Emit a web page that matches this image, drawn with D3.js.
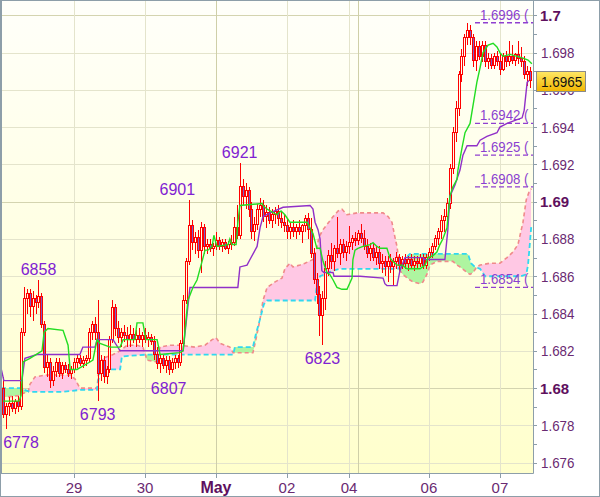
<!DOCTYPE html>
<html><head><meta charset="utf-8">
<script src="https://cdn.jsdelivr.net/npm/d3@7/dist/d3.min.js"></script>
<style>html,body{margin:0;padding:0;background:#fff}svg{display:block}</style>
</head><body>
<svg id="chart" width="600" height="497"></svg>
<script>
// ---- hourly bars (GBP/USD) ----
const barOpen=[1.6800,1.6786,1.6790,1.6792,1.6789,1.6793,1.6790,1.6830,1.6848,1.6851,
1.6844,1.6848,1.6846,1.6849,1.6834,1.6811,1.6814,1.6804,1.6809,1.6814,
1.6808,1.6812,1.6810,1.6808,1.6810,1.6814,1.6816,1.6813,1.6815,1.6816,
1.6830,1.6834,1.6830,1.6808,1.6815,1.6806,1.6810,1.6826,1.6843,1.6832,
1.6827,1.6830,1.6828,1.6826,1.6829,1.6826,1.6828,1.6826,1.6828,1.6826,
1.6827,1.6825,1.6818,1.6813,1.6816,1.6812,1.6815,1.6810,1.6814,1.6816,
1.6814,1.6824,1.6847,1.6868,1.6887,1.6878,1.6881,1.6874,1.6886,1.6876,
1.6877,1.6875,1.6876,1.6879,1.6876,1.6878,1.6875,1.6877,1.6878,1.6886,
1.6882,1.6908,1.6903,1.6906,1.6896,1.6884,1.6888,1.6896,1.6898,1.6892,
1.6894,1.6890,1.6893,1.6895,1.6891,1.6889,1.6887,1.6884,1.6886,1.6884,
1.6886,1.6884,1.6887,1.6891,1.6885,1.6872,1.6858,1.6850,1.6839,1.6848,
1.6864,1.6871,1.6868,1.6875,1.6872,1.6877,1.6873,1.6876,1.6878,1.6880,
1.6879,1.6883,1.6880,1.6876,1.6872,1.6875,1.6870,1.6873,1.6867,1.6868,
1.6865,1.6868,1.6865,1.6868,1.6870,1.6866,1.6869,1.6867,1.6869,1.6866,
1.6868,1.6867,1.6870,1.6866,1.6870,1.6873,1.6876,1.6880,1.6884,1.6890,
1.6892,1.6899,1.6918,1.6937,1.6950,1.6968,1.6978,1.6988,1.6992,1.6988,
1.6976,1.6983,1.6978,1.6984,1.6975,1.6977,1.6973,1.6978,1.6975,1.6971,
1.6978,1.6975,1.6978,1.6976,1.6979,1.6977,1.6975,1.6968,1.6970];
const barHigh=[1.6806,1.6792,1.6795,1.6796,1.6794,1.6796,1.6832,1.6854,1.6853,1.6853,
1.6852,1.6850,1.6858,1.6851,1.6836,1.6818,1.6816,1.6812,1.6816,1.6816,
1.6814,1.6814,1.6813,1.6812,1.6816,1.6818,1.6818,1.6817,1.6818,1.6832,
1.6836,1.6838,1.6847,1.6818,1.6817,1.6812,1.6828,1.6847,1.6845,1.6836,
1.6832,1.6834,1.6833,1.6834,1.6832,1.6831,1.6832,1.6830,1.6832,1.6830,
1.6829,1.6828,1.6822,1.6818,1.6818,1.6817,1.6817,1.6816,1.6818,1.6818,
1.6826,1.6850,1.6870,1.6901,1.6890,1.6884,1.6885,1.6889,1.6888,1.6880,
1.6880,1.6878,1.6884,1.6881,1.6880,1.6880,1.6879,1.6882,1.6892,1.6898,
1.6921,1.6912,1.6910,1.6908,1.6900,1.6892,1.6899,1.6902,1.6901,1.6898,
1.6897,1.6896,1.6897,1.6898,1.6895,1.6893,1.6891,1.6889,1.6890,1.6888,
1.6890,1.6888,1.6893,1.6894,1.6891,1.6875,1.6862,1.6855,1.6852,1.6868,
1.6874,1.6878,1.6877,1.6892,1.6880,1.6880,1.6879,1.6887,1.6882,1.6884,
1.6885,1.6888,1.6885,1.6880,1.6878,1.6878,1.6876,1.6876,1.6872,1.6871,
1.6871,1.6872,1.6870,1.6873,1.6872,1.6871,1.6872,1.6871,1.6872,1.6871,
1.6871,1.6872,1.6872,1.6872,1.6875,1.6878,1.6882,1.6886,1.6893,1.6896,
1.6902,1.6920,1.6940,1.6954,1.6970,1.6982,1.6990,1.6996,1.6995,1.6990,
1.6986,1.6986,1.6986,1.6986,1.6980,1.6979,1.6980,1.6981,1.6979,1.6980,
1.6981,1.6986,1.6984,1.6980,1.6986,1.6983,1.6978,1.6973,1.6972];
const barLow=[1.6784,1.6778,1.6785,1.6787,1.6786,1.6787,1.6788,1.6828,1.6840,1.6838,
1.6836,1.6840,1.6843,1.6832,1.6808,1.6806,1.6800,1.6801,1.6806,1.6806,
1.6805,1.6808,1.6806,1.6805,1.6808,1.6811,1.6812,1.6811,1.6812,1.6814,
1.6826,1.6826,1.6793,1.6804,1.6803,1.6802,1.6808,1.6824,1.6828,1.6824,
1.6822,1.6825,1.6822,1.6822,1.6824,1.6822,1.6824,1.6822,1.6824,1.6822,
1.6823,1.6815,1.6810,1.6808,1.6810,1.6808,1.6807,1.6808,1.6810,1.6811,
1.6812,1.6822,1.6845,1.6866,1.6874,1.6872,1.6870,1.6862,1.6872,1.6872,
1.6873,1.6871,1.6874,1.6874,1.6873,1.6874,1.6872,1.6874,1.6876,1.6880,
1.6880,1.6898,1.6896,1.6892,1.6880,1.6879,1.6885,1.6892,1.6889,1.6886,
1.6888,1.6886,1.6888,1.6887,1.6886,1.6884,1.6880,1.6880,1.6881,1.6880,
1.6882,1.6878,1.6884,1.6880,1.6870,1.6856,1.6845,1.6828,1.6823,1.6842,
1.6860,1.6864,1.6863,1.6870,1.6866,1.6870,1.6868,1.6872,1.6874,1.6876,
1.6877,1.6878,1.6874,1.6870,1.6868,1.6868,1.6866,1.6864,1.6862,1.6860,
1.6857,1.6862,1.6855,1.6864,1.6862,1.6864,1.6864,1.6863,1.6864,1.6863,
1.6864,1.6865,1.6864,1.6864,1.6868,1.6870,1.6874,1.6877,1.6880,1.6884,
1.6890,1.6896,1.6915,1.6932,1.6946,1.6964,1.6973,1.6984,1.6984,1.6972,
1.6970,1.6976,1.6975,1.6972,1.6971,1.6971,1.6971,1.6973,1.6968,1.6970,
1.6972,1.6973,1.6974,1.6973,1.6974,1.6972,1.6966,1.6962,1.6961];
const barClose=[1.6786,1.6790,1.6792,1.6789,1.6793,1.6790,1.6830,1.6848,1.6851,1.6844,
1.6848,1.6846,1.6849,1.6834,1.6811,1.6814,1.6804,1.6809,1.6814,1.6808,
1.6812,1.6810,1.6808,1.6810,1.6814,1.6816,1.6813,1.6815,1.6816,1.6830,
1.6834,1.6830,1.6808,1.6815,1.6806,1.6810,1.6826,1.6843,1.6832,1.6827,
1.6830,1.6828,1.6826,1.6829,1.6826,1.6828,1.6826,1.6828,1.6826,1.6827,
1.6825,1.6818,1.6813,1.6816,1.6812,1.6815,1.6810,1.6814,1.6816,1.6814,
1.6824,1.6847,1.6868,1.6887,1.6878,1.6881,1.6874,1.6886,1.6876,1.6877,
1.6875,1.6876,1.6879,1.6876,1.6878,1.6875,1.6877,1.6878,1.6886,1.6882,
1.6908,1.6903,1.6906,1.6896,1.6884,1.6888,1.6896,1.6898,1.6892,1.6894,
1.6890,1.6893,1.6895,1.6891,1.6889,1.6887,1.6884,1.6886,1.6884,1.6886,
1.6884,1.6887,1.6891,1.6885,1.6872,1.6858,1.6850,1.6839,1.6848,1.6864,
1.6871,1.6868,1.6875,1.6872,1.6877,1.6873,1.6876,1.6878,1.6880,1.6879,
1.6883,1.6880,1.6876,1.6872,1.6875,1.6870,1.6873,1.6867,1.6868,1.6865,
1.6868,1.6865,1.6868,1.6870,1.6866,1.6869,1.6867,1.6869,1.6866,1.6868,
1.6867,1.6870,1.6866,1.6870,1.6873,1.6876,1.6880,1.6884,1.6890,1.6892,
1.6899,1.6918,1.6937,1.6950,1.6968,1.6978,1.6988,1.6992,1.6988,1.6976,
1.6983,1.6978,1.6984,1.6975,1.6977,1.6973,1.6978,1.6975,1.6971,1.6978,
1.6975,1.6978,1.6976,1.6979,1.6977,1.6975,1.6968,1.6970,1.6965];

// ---- Ichimoku lines: [bar position, price] ----
const tenkan=[[0,1.6793],[5.4,1.6793],[6.1,1.6796],[6.8,1.6814],[9.1,1.6816],[13.2,1.6820],[13.9,1.6830],[15.2,1.6832],[20.3,1.6831],[22.0,1.6823],[22.7,1.6810],[25.0,1.6810],[29.4,1.6814],[30.4,1.6815],[31.8,1.6826],[32.8,1.6824],[36.2,1.6822],[39.6,1.6822],[40.6,1.6826],[44.6,1.6826],[45.3,1.6835],[47.3,1.6835],[48.3,1.6826],[52.1,1.6826],[53.1,1.6818],[59.8,1.6819],[60.9,1.6820],[62.5,1.6847],[64.2,1.6854],[65.6,1.6858],[67.3,1.6868],[68.3,1.6874],[69.3,1.6874],[70.7,1.6876],[71.3,1.6882],[72.3,1.6876],[76.1,1.6877],[76.7,1.6880],[77.4,1.6877],[78.8,1.6877],[79.4,1.6889],[80.1,1.6898],[87.6,1.6899],[87.9,1.6898],[89.3,1.6896],[92.6,1.6893],[94.0,1.6895],[95.3,1.6893],[97.0,1.6889],[102.8,1.6889],[104.8,1.6883],[106.1,1.6875],[107.2,1.6875],[108.2,1.6868],[109.5,1.6862],[110.5,1.6861],[111.6,1.6858],[112.9,1.6854],[114.6,1.6853],[116.3,1.6853],[118.0,1.6859],[118.3,1.6869],[119.0,1.6874],[120.0,1.6875],[121.7,1.6876],[124.1,1.6877],[125.1,1.6878],[126.4,1.6876],[127.5,1.6875],[129.8,1.6875],[130.8,1.6870],[131.8,1.6868],[133.2,1.6866],[134.9,1.6866],[136.6,1.6864],[141.0,1.6864],[142.7,1.6866],[143.7,1.6870],[145.4,1.6871],[146.7,1.6873],[147.7,1.6877],[148.7,1.6880],[150.1,1.6886],[151.1,1.6903],[152.1,1.6908],[153.5,1.6912],[153.8,1.6917],[155.2,1.6929],[156.2,1.6937],[157.9,1.6942],[160.2,1.6964],[161.3,1.6972],[162.3,1.6980],[164.0,1.6984],[165.7,1.6985],[167.0,1.6983],[168.0,1.6980],[169.0,1.6978],[171.4,1.6979],[173.8,1.6978],[175.8,1.6977],[177.5,1.6976],[178.8,1.6974]];
const kijun=[[-0.7,1.6811],[0.3,1.6804],[6.4,1.6804],[7.4,1.6816],[11.5,1.6818],[26.0,1.6818],[27.0,1.6822],[31.1,1.6822],[31.8,1.6826],[37.2,1.6826],[39.6,1.6820],[60.9,1.6820],[63.2,1.6854],[79.4,1.6854],[80.1,1.6865],[82.5,1.6866],[83.5,1.6869],[85.9,1.6876],[86.9,1.6886],[87.9,1.6892],[90.3,1.6894],[94.7,1.6897],[103.8,1.6898],[104.8,1.6896],[105.5,1.6889],[106.5,1.6885],[107.2,1.6880],[107.8,1.6863],[108.5,1.6862],[111.6,1.6862],[111.9,1.6860],[120.7,1.6860],[128.5,1.6859],[129.1,1.6856],[129.8,1.6855],[133.2,1.6855],[134.2,1.6863],[135.9,1.6870],[142.0,1.6870],[142.7,1.6869],[149.4,1.6869],[150.4,1.6885],[151.1,1.6903],[152.8,1.6909],[154.5,1.6917],[155.5,1.6925],[156.9,1.6930],[160.2,1.6930],[161.3,1.6933],[163.6,1.6935],[167.0,1.6937],[168.0,1.6940],[170.4,1.6942],[173.8,1.6944],[175.5,1.6945],[176.2,1.6949],[177.2,1.6964],[177.8,1.6965]];
const spanA=[[-0.7,1.6795],[5.7,1.6796],[6.4,1.6797],[8.5,1.6798],[9.1,1.6802],[10.8,1.6806],[14.2,1.6807],[22.7,1.6807],[24.3,1.6805],[26.0,1.6800],[31.8,1.6800],[32.5,1.6812],[33.8,1.6816],[37.2,1.6818],[39.6,1.6820],[41.9,1.6823],[45.3,1.6823],[47.3,1.6822],[48.7,1.6815],[52.1,1.6814],[53.1,1.6822],[56.5,1.6823],[59.8,1.6823],[64.9,1.6822],[68.3,1.6823],[70.7,1.6826],[72.0,1.6827],[73.4,1.6824],[76.7,1.6822],[77.8,1.6819],[84.5,1.6819],[85.5,1.6826],[86.9,1.6837],[87.9,1.6847],[89.3,1.6854],[92.0,1.6857],[94.3,1.6859],[95.3,1.6864],[97.0,1.6867],[98.0,1.6865],[100.4,1.6866],[102.1,1.6867],[104.8,1.6869],[106.1,1.6875],[106.8,1.6881],[108.2,1.6885],[111.6,1.6892],[113.3,1.6895],[114.6,1.6896],[116.3,1.6893],[119.7,1.6894],[123.1,1.6894],[128.5,1.6894],[130.2,1.6892],[131.5,1.6889],[132.5,1.6881],[133.2,1.6876],[133.9,1.6867],[134.2,1.6863],[135.2,1.6861],[137.6,1.6858],[138.6,1.6857],[141.0,1.6856],[142.0,1.6857],[143.3,1.6861],[144.4,1.6866],[146.7,1.6868],[152.1,1.6868],[153.5,1.6866],[154.5,1.6865],[156.9,1.6862],[157.9,1.6861],[158.9,1.6862],[160.2,1.6865],[161.3,1.6866],[164.6,1.6867],[168.0,1.6867],[170.4,1.6870],[172.4,1.6873],[174.1,1.6877],[175.8,1.6889],[176.9,1.6901],[177.8,1.6905],[178.6,1.6907]];
const spanB=[[-0.7,1.6800],[5.7,1.6800],[9.1,1.6798],[20.3,1.6798],[26.0,1.6799],[31.8,1.6799],[32.5,1.6807],[33.1,1.6810],[39.6,1.6810],[40.2,1.6817],[48.7,1.6818],[77.8,1.6818],[78.4,1.6822],[84.5,1.6822],[85.5,1.6829],[86.9,1.6837],[88.2,1.6845],[89.3,1.6847],[105.5,1.6847],[106.1,1.6855],[107.2,1.6860],[111.6,1.6863],[113.9,1.6864],[133.5,1.6864],[135.9,1.6867],[136.9,1.6871],[137.6,1.6872],[157.2,1.6872],[158.2,1.6867],[159.6,1.6865],[161.3,1.6864],[163.0,1.6860],[175.1,1.6860],[176.9,1.6861],[177.5,1.6866],[178.2,1.6879],[178.6,1.6887]];

// ---- annotations ----
const levelValues=[1.6996,1.6942,1.6925,1.6908,1.6854];
const extremeIdx=[1,12,32,56,63,80,108];
const extremeVal=[1.6778,1.6858,1.6793,1.6807,1.6901,1.6921,1.6823];
const extremeKind=["low","high","low","low","high","high","low"];
const yTickValues=[1.676,1.678,1.68,1.682,1.684,1.686,1.688,1.69,1.692,1.694,1.696,1.698,1.7];
const yMinorTicks=[1.676,1.677,1.678,1.679,1.68,1.681,1.682,1.683,1.684,1.685,1.686,1.687,1.688,1.689,1.69,1.691,1.692,1.693,1.694,1.695,1.696,1.697,1.698,1.699,1.7];
const xTickIdx=[24,48,72,96,117,144,168];
const xTickLabels=["29","30","May","02","04","06","07"];
const xGridIdx=[24,48,72,96,117,120,144,168];
const xGridMajor=[72,120];
const lastPrice=1.6965;

const FONT="'Liberation Sans', Arial, sans-serif";
const svg=d3.select("#chart");
const P={l:2,t:1,r:533,b:473};
const x=d3.scaleLinear().domain([0,178]).range([3,529.5]);
const y=d3.scaleLinear().domain([1.676,1.7]).range([462.66,15.3]);

// narrow the glyphs of a text (the reference uses a condensed face)
function condense(sel,f){sel.each(function(){const w=this.getComputedTextLength();
  d3.select(this).attr("textLength",(w*f).toFixed(1)).attr("lengthAdjust","spacingAndGlyphs");});}

const defs=svg.append("defs");
const bg=defs.append("linearGradient").attr("id","bg").attr("gradientUnits","userSpaceOnUse")
  .attr("x1",0).attr("y1",0).attr("x2",0).attr("y2",P.b);
bg.append("stop").attr("offset",0).attr("stop-color","#fffffa");
bg.append("stop").attr("offset",1).attr("stop-color","#ffffcc");
const bd=defs.append("linearGradient").attr("id","badge").attr("x1",0).attr("y1",0).attr("x2",0).attr("y2",1);
bd.append("stop").attr("offset",0).attr("stop-color","#ffe866");
bd.append("stop").attr("offset",1).attr("stop-color","#f2b600");
defs.append("clipPath").attr("id","plotClip").append("rect")
  .attr("x",P.l).attr("y",P.t).attr("width",P.r-P.l).attr("height",P.b-P.t);

const aboveArea=d3.area().x(d=>x(d[0])).y0(P.t-10).y1(d=>y(d[1]));
const belowArea=d3.area().x(d=>x(d[0])).y0(P.b+10).y1(d=>y(d[1]));
defs.append("clipPath").attr("id","aboveB").append("path").attr("d",aboveArea(spanB));
defs.append("clipPath").attr("id","aboveA").append("path").attr("d",aboveArea(spanA));

// background
svg.append("rect").attr("x",0).attr("y",0).attr("width",600).attr("height",497).attr("fill","#fff");
svg.append("rect").attr("x",P.l).attr("y",P.t).attr("width",P.r-P.l).attr("height",P.b-P.t).attr("fill","url(#bg)");

const g=svg.append("g").attr("clip-path","url(#plotClip)");

// grid
g.selectAll(".hg").data(yTickValues).enter().append("line")
  .attr("x1",P.l).attr("x2",P.r).attr("y1",d=>Math.round(y(d))+0.5).attr("y2",d=>Math.round(y(d))+0.5)
  .attr("stroke",d=>(Math.abs(d*100-Math.round(d*100))<1e-6)?"#d4d4b0":"#e4e4cc").attr("stroke-width",1);
g.selectAll(".vg").data(xGridIdx).enter().append("line")
  .attr("y1",P.t).attr("y2",P.b).attr("x1",d=>Math.round(x(d))+0.5).attr("x2",d=>Math.round(x(d))+0.5)
  .attr("stroke",d=>xGridMajor.includes(d)?"#cfcfa8":"#e4e4cc").attr("stroke-width",1);

// cloud
g.append("path").attr("d",belowArea(spanA)).attr("fill","#ffc8e4").attr("clip-path","url(#aboveB)");
g.append("path").attr("d",belowArea(spanB)).attr("fill","#aef5a0").attr("clip-path","url(#aboveA)");
const line=d3.line().x(d=>x(d[0])).y(d=>y(d[1]));
g.append("path").attr("d",line(spanA)).attr("fill","none").attr("stroke","#f08a8a").attr("stroke-width",1.6).attr("stroke-dasharray","4,3");
g.append("path").attr("d",line(spanB)).attr("fill","none").attr("stroke","#30d8f0").attr("stroke-width",1.8).attr("stroke-dasharray","5,3");

// candles
const bars=barOpen.map((o,i)=>({i,o,h:barHigh[i],l:barLow[i],c:barClose[i]}));
const cg=g.append("g").attr("shape-rendering","crispEdges");
cg.selectAll(".wick").data(bars).enter().append("line")
  .attr("x1",d=>Math.round(x(d.i))+0.5).attr("x2",d=>Math.round(x(d.i))+0.5)
  .attr("y1",d=>y(d.h)).attr("y2",d=>y(d.l)).attr("stroke","#ff0000").attr("stroke-width",1);
cg.selectAll(".body").data(bars).enter().append("rect")
  .attr("x",d=>Math.round(x(d.i))-1+0.5).attr("width",2)
  .attr("y",d=>y(Math.max(d.o,d.c))).attr("height",d=>Math.max(1,Math.abs(y(d.o)-y(d.c))))
  .attr("fill",d=>d.c<d.o?"#7a5cc8":"url(#bg)").attr("stroke","#ff0000").attr("stroke-width",1);

// levels
levelValues.forEach((v,k)=>{
  g.append("line").attr("x1",475).attr("x2",P.r).attr("y1",y(v)).attr("y2",y(v))
    .attr("stroke","#9040d0").attr("stroke-width",1.3).attr("stroke-dasharray","5,3");
  const t=g.append("text").attr("x",480).attr("y",y(v)-3).attr("font-family",FONT).attr("font-size",15)
    .attr("fill","#8a3fd0").text(d3.format(".4f")(v)+" (");
  condense(t,0.88);
});

// ichimoku lines
g.append("path").attr("d",line(kijun)).attr("fill","none").attr("stroke","#9030c8").attr("stroke-width",1.4);
g.append("path").attr("d",line(tenkan)).attr("fill","none").attr("stroke","#22dd22").attr("stroke-width",1.4);

// extremes
const shift={63:-12};
extremeIdx.forEach((idx,k)=>{
  const v=extremeVal[k];
  const cx=Math.max(21,x(idx)+(shift[idx]||0));
  const ty=extremeKind[k]==="high"?y(v)-5:y(v)+19;
  svg.append("text").attr("x",cx).attr("y",ty).attr("text-anchor","middle")
    .attr("font-family",FONT).attr("font-size",16).attr("fill","#7f22d2")
    .text(String(Math.round(v*1e4)).slice(-4));
});

// axes
const AX="#8d9ea9";
svg.append("line").attr("x1",P.r+0.5).attr("x2",P.r+0.5).attr("y1",0).attr("y2",P.b+0.5).attr("stroke",AX);
svg.append("line").attr("x1",0).attr("x2",P.r+0.5).attr("y1",P.b+0.5).attr("y2",P.b+0.5).attr("stroke",AX);
svg.selectAll(".yt").data(yMinorTicks).enter().append("line")
  .attr("x1",P.r).attr("x2",P.r+4).attr("y1",d=>Math.round(y(d))+0.5).attr("y2",d=>Math.round(y(d))+0.5).attr("stroke",AX);
const isMajor=d=>Math.abs(d*100-Math.round(d*100))<1e-6;
const yl=svg.selectAll(".yl").data(yTickValues).enter().append("text")
  .attr("x",d=>isMajor(d)?540:541).attr("y",d=>y(d)+5.5)
  .attr("font-family",FONT).attr("font-size",15).attr("font-weight",d=>isMajor(d)?"bold":"normal")
  .attr("fill",d=>isMajor(d)?"#5e105e":"#6a2a72")
  .text(d=>isMajor(d)?d3.format(".2~f")(d):d3.format(".3f")(d));
condense(yl.filter(d=>!isMajor(d)),0.89);
svg.selectAll(".xt").data(xTickIdx).enter().append("line")
  .attr("x1",d=>Math.round(x(d))+0.5).attr("x2",d=>Math.round(x(d))+0.5).attr("y1",P.b).attr("y2",P.b+5).attr("stroke",AX);
svg.selectAll(".xl").data(xTickIdx).enter().append("text")
  .attr("x",d=>x(d)).attr("y",493).attr("text-anchor","middle")
  .attr("font-family",FONT).attr("font-size",(d,k)=>xTickLabels[k]==="May"?16:15)
  .attr("font-weight",(d,k)=>xTickLabels[k]==="May"?"bold":"normal")
  .attr("fill",(d,k)=>xTickLabels[k]==="May"?"#5e105e":"#6a2a72")
  .text((d,k)=>xTickLabels[k]);

// last price badge
const by=y(lastPrice);
svg.append("rect").attr("x",536.5).attr("y",Math.round(by)-9.5).attr("width",49).attr("height",20)
  .attr("fill","url(#badge)").attr("stroke","#8a8a8a");
const bt=svg.append("text").attr("x",541).attr("y",Math.round(by)+6).attr("font-family",FONT).attr("font-size",15)
  .attr("fill","#111").text(d3.format(".4f")(lastPrice));
condense(bt,0.9);

// frame
svg.append("rect").attr("x",0.5).attr("y",0.5).attr("width",599).attr("height",496).attr("fill","none").attr("stroke",AX);
svg.append("line").attr("x1",1.5).attr("x2",1.5).attr("y1",0).attr("y2",P.b).attr("stroke",AX);
</script>
</body></html>
